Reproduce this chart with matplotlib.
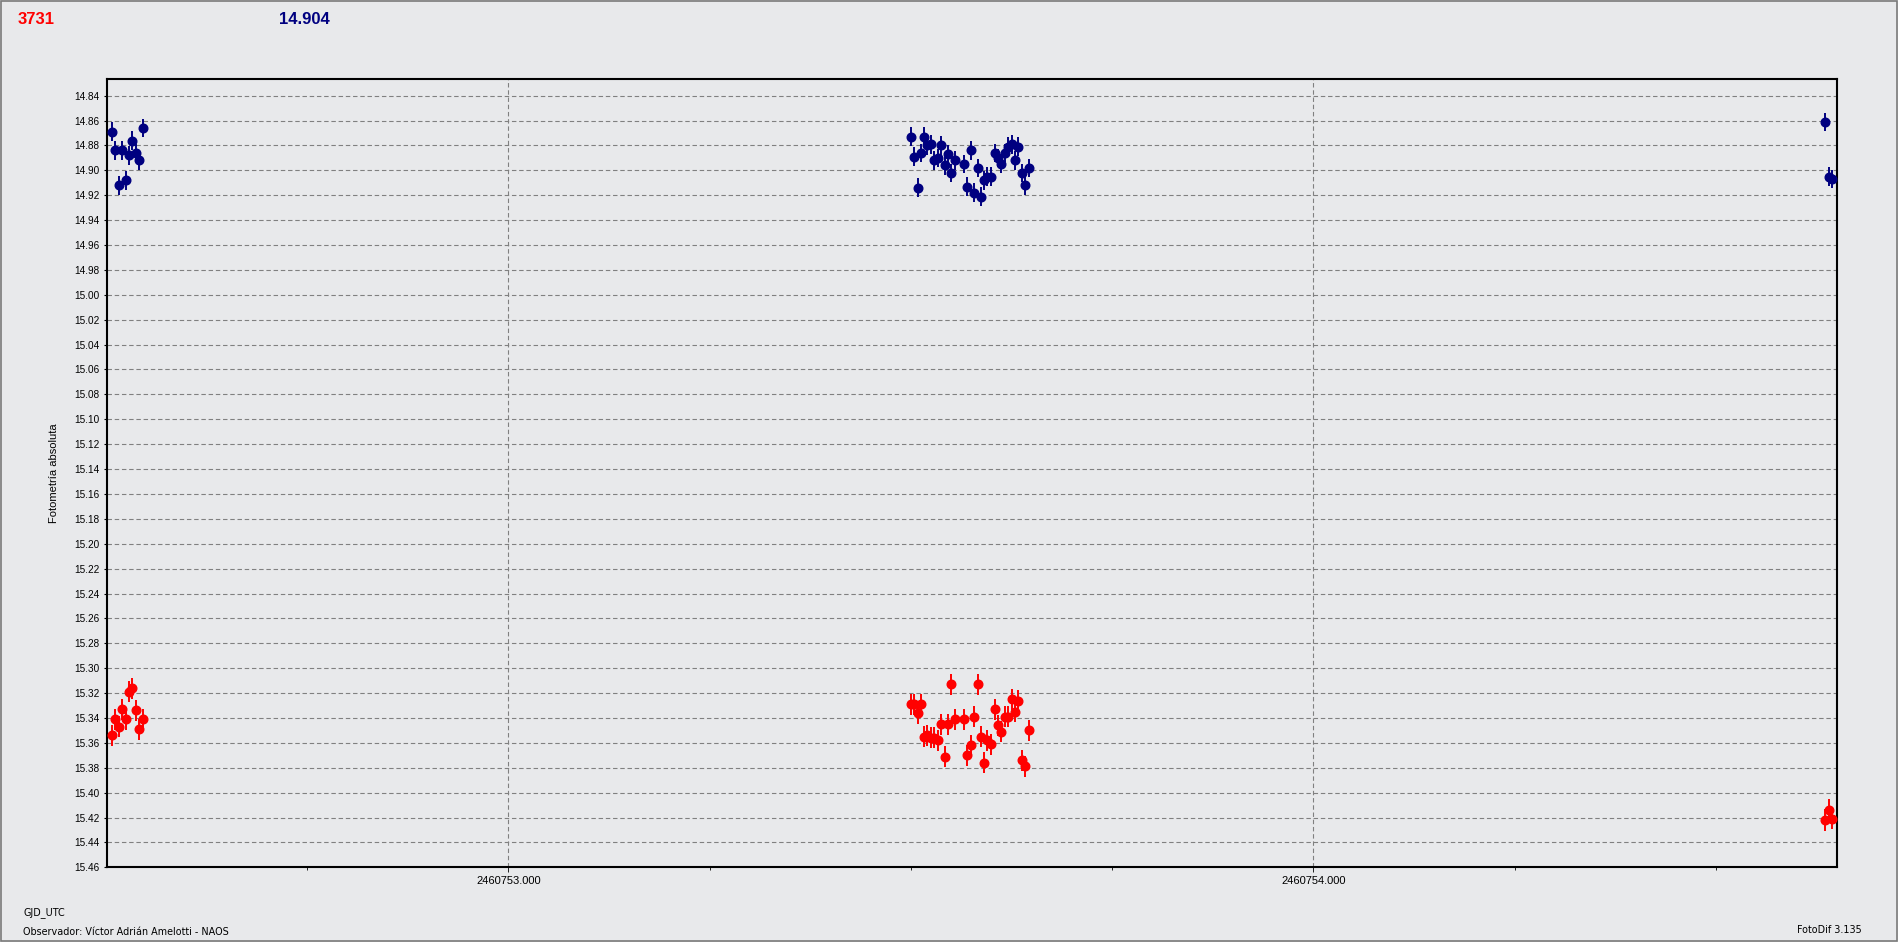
import matplotlib
matplotlib.use('Agg')
import matplotlib.pyplot as plt
from matplotlib.ticker import MultipleLocator, FormatStrFormatter
from matplotlib.patches import Rectangle

# observation times (GJD_UTC)
gjd = [2460752.5072, 2460752.5113, 2460752.5157, 2460752.5200, 2460752.5244,
       2460752.5287, 2460752.5324, 2460752.5374, 2460752.5411, 2460752.5461,
       2460753.5001, 2460753.5039, 2460753.5088, 2460753.5126, 2460753.5163,
       2460753.5204, 2460753.5250, 2460753.5287, 2460753.5333, 2460753.5374,
       2460753.5424, 2460753.5461, 2460753.5498, 2460753.5548, 2460753.5660,
       2460753.5697, 2460753.5747, 2460753.5784, 2460753.5834, 2460753.5871,
       2460753.5908, 2460753.5946, 2460753.5995, 2460753.6045, 2460753.6082,
       2460753.6119, 2460753.6169, 2460753.6206, 2460753.6256, 2460753.6293,
       2460753.6330, 2460753.6380, 2460753.6417, 2460753.6467,
       2460754.6355, 2460754.6405, 2460754.6442]

# blue series
mag_blue = [14.869, 14.884, 14.912, 14.884, 14.908, 14.888, 14.876, 14.886, 14.892, 14.866,
            14.873, 14.889, 14.914, 14.886, 14.873, 14.880, 14.879, 14.892, 14.890, 14.880,
            14.896, 14.887, 14.902, 14.892, 14.895, 14.913, 14.884, 14.918, 14.898, 14.921,
            14.908, 14.905, 14.905, 14.886, 14.890, 14.895, 14.886, 14.881, 14.879, 14.892,
            14.881, 14.902, 14.912, 14.898,
            14.861, 14.905, 14.907]
err_blue = 0.0075

# red series
mag_red = [15.354, 15.341, 15.347, 15.333, 15.341, 15.319, 15.316, 15.334, 15.349, 15.341,
           15.329, 15.329, 15.336, 15.329, 15.355, 15.354, 15.356, 15.356, 15.358, 15.345,
           15.371, 15.345, 15.313, 15.341, 15.341, 15.370, 15.362, 15.339, 15.313, 15.355,
           15.376, 15.358, 15.361, 15.333, 15.346, 15.351, 15.339, 15.339, 15.325, 15.335,
           15.326, 15.374, 15.379, 15.350,
           15.422, 15.414, 15.421]
err_red = 0.0085

header_red = "3731"
header_blue = "14.904"

bg = '#E8E9EB'
navy = '#000080'
red = '#FF0000'

fig = plt.figure(figsize=(18.98, 9.42), dpi=100, facecolor=bg)
ax = fig.add_axes([0.0562, 0.0793, 0.9119, 0.8372])
ax.set_facecolor(bg)

ax.errorbar(gjd, mag_blue, yerr=err_blue, fmt='o', color=navy, ms=6.2,
            elinewidth=1.4, capsize=0, zorder=3)
ax.errorbar(gjd, mag_red, yerr=err_red, fmt='o', color=red, ms=6.2,
            elinewidth=1.4, capsize=0, zorder=3)

ax.set_xlim(2460752.5010, 2460754.6510)
ax.set_ylim(15.46, 14.8263)

ax.yaxis.set_major_locator(MultipleLocator(0.02))
ax.yaxis.set_major_formatter(FormatStrFormatter('%.2f'))
ax.xaxis.set_major_locator(MultipleLocator(1.0))
ax.xaxis.set_minor_locator(MultipleLocator(0.25))
ax.xaxis.set_major_formatter(FormatStrFormatter('%.3f'))

ax.grid(True, which='major', color='#808080', linestyle=(0, (4, 2.5)), linewidth=0.8)

for lab in ax.get_yticklabels():
    lab.set_fontfamily('Liberation Sans')
    lab.set_fontsize(7.2)
for lab in ax.get_xticklabels():
    lab.set_fontfamily('Liberation Sans')
    lab.set_fontsize(8)
ax.tick_params(axis='y', direction='out', length=2.2, width=0.8, pad=3, colors='black')
ax.tick_params(axis='x', which='major', direction='out', length=3.5, width=0.6, pad=2.5)
ax.tick_params(axis='x', which='minor', direction='out', length=2.5, width=0.6)

for s in ax.spines.values():
    s.set_linewidth(1.5)
    s.set_color('black')

ax.set_ylabel('Fotometría absoluta', fontsize=8, family='Liberation Sans', labelpad=11)

# header values
fig.text(18 / 1898, 1 - 19.5 / 942, header_red, color=red, fontsize=12,
         fontweight='bold', family='Liberation Sans', va='center', ha='left')
fig.text(279 / 1898, 1 - 19.5 / 942, header_blue, color=navy, fontsize=12,
         fontweight='bold', family='Liberation Sans', va='center', ha='left')

# footer
fig.text(23 / 1898, 1 - 913 / 942, 'GJD_UTC', fontsize=6.9, family='DejaVu Sans',
         va='center', ha='left')
fig.text(23 / 1898, 1 - 932 / 942, 'Observador: Víctor Adrián Amelotti - NAOS',
         fontsize=6.9, family='DejaVu Sans', va='center', ha='left')
fig.text(1862 / 1898, 1 - 930 / 942, 'FotoDif 3.135', fontsize=6.9,
         family='DejaVu Sans', va='center', ha='right')

# outer border
fig.patches.append(Rectangle((0.0005, 0.001), 0.999, 0.998, transform=fig.transFigure,
                             fill=False, edgecolor='#7A7A7A', linewidth=1.2))

fig.savefig('out.png', dpi=100, facecolor=bg)
